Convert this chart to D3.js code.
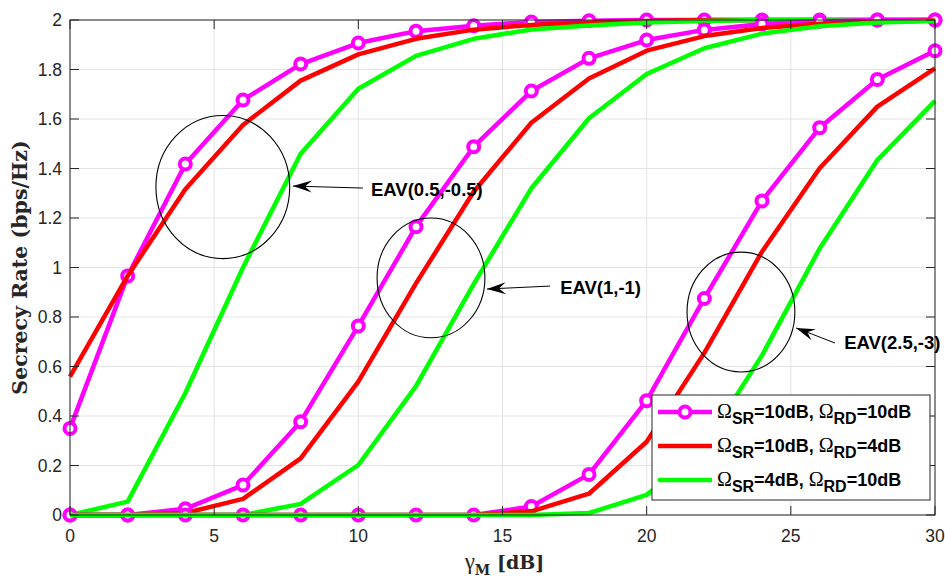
<!DOCTYPE html>
<html>
<head>
<meta charset="utf-8">
<script src="https://cdn.jsdelivr.net/npm/d3@7"></script>
<style>
  body { margin: 0; background: #fff; }
  svg { display: block; }
</style>
</head>
<body>
<svg id="chart" width="945" height="581"></svg>
<script>
// gamma_M in dB
const xVals = [0, 2, 4, 6, 8, 10, 12, 14, 16, 18, 20, 22, 24, 26, 28, 30];

// EAV(0.5,-0.5)
const eav1_m = [0.35, 0.966, 1.418, 1.677, 1.822, 1.907, 1.955, 1.977, 1.992, 1.997, 2.0, 2.0, 2.0, 2.0, 2.0, 2.0];
const eav1_r = [0.559, 0.966, 1.316, 1.576, 1.755, 1.861, 1.924, 1.961, 1.98, 1.99, 1.996, 2.0, 2.0, 2.0, 2.0, 2.0];
const eav1_g = [0.0, 0.054, 0.493, 1.0, 1.46, 1.722, 1.855, 1.924, 1.962, 1.978, 1.99, 1.996, 2.0, 2.0, 2.0, 2.0];

// EAV(1,-1)
const eav2_m = [0.0, 0.0, 0.025, 0.121, 0.377, 0.764, 1.165, 1.488, 1.713, 1.845, 1.919, 1.96, 1.984, 1.995, 2.0, 2.0];
const eav2_r = [0.0, 0.0, 0.008, 0.065, 0.229, 0.539, 0.936, 1.306, 1.585, 1.764, 1.876, 1.935, 1.968, 1.985, 1.993, 1.998];
const eav2_g = [0.0, 0.0, 0.0, 0.0, 0.045, 0.202, 0.521, 0.933, 1.32, 1.603, 1.782, 1.886, 1.945, 1.975, 1.99, 1.996];

// EAV(2.5,-3)
const eav3_m = [0, 0, 0, 0, 0, 0, 0, 0.0, 0.034, 0.164, 0.462, 0.875, 1.269, 1.565, 1.76, 1.876];
const eav3_r = [0, 0, 0, 0, 0, 0, 0, 0.0, 0.015, 0.086, 0.296, 0.655, 1.064, 1.401, 1.65, 1.805];
const eav3_g = [0, 0, 0, 0, 0, 0, 0, 0.0, 0.0, 0.008, 0.081, 0.28, 0.645, 1.077, 1.434, 1.673];

const xTicks = [0, 5, 10, 15, 20, 25, 30];
const yTicks = [0, 0.2, 0.4, 0.6, 0.8, 1, 1.2, 1.4, 1.6, 1.8, 2];

// annotation ellipses + arrows, in data units
const annotations = [
  { label: "EAV(0.5,-0.5)", cx: 5.3, cy: 1.325, rx: 2.32, ry: 0.289, tip: [7.73, 1.329], tail: [10.16, 1.321], tx: 10.44, ty: 1.317 },
  { label: "EAV(1,-1)", cx: 12.52, cy: 0.958, rx: 1.87, ry: 0.242, tip: [14.46, 0.913], tail: [16.65, 0.925], tx: 17.0, ty: 0.921 },
  { label: "EAV(2.5,-3)", cx: 23.27, cy: 0.82, rx: 1.87, ry: 0.242, tip: [25.18, 0.756], tail: [26.53, 0.695], tx: 26.85, ty: 0.695 }
];

const legendItems = [
  { sr: "10dB", rd: "10dB", color: "#ff00ff", marker: true },
  { sr: "10dB", rd: "4dB", color: "#ff0000", marker: false },
  { sr: "4dB", rd: "10dB", color: "#00ff00", marker: false }
];

const groups = [
  [{ y: eav1_m, c: "#ff00ff", m: true }, { y: eav1_r, c: "#ff0000" }, { y: eav1_g, c: "#00ff00" }],
  [{ y: eav2_m, c: "#ff00ff", m: true }, { y: eav2_r, c: "#ff0000" }, { y: eav2_g, c: "#00ff00" }],
  [{ y: eav3_m, c: "#ff00ff", m: true }, { y: eav3_r, c: "#ff0000" }, { y: eav3_g, c: "#00ff00" }]
];

const margin = { top: 20, right: 10, bottom: 66, left: 70 };
const width = 945 - margin.left - margin.right;
const height = 581 - margin.top - margin.bottom;
const axisColor = "#262626";

const svg = d3.select("#chart");
const g = svg.append("g").attr("transform", `translate(${margin.left},${margin.top})`);

const x = d3.scaleLinear().domain([0, 30]).range([0, width]);
const y = d3.scaleLinear().domain([0, 2]).range([height, 0]);

// grid
g.append("g").selectAll("line").data(xTicks).join("line")
  .attr("x1", d => x(d)).attr("x2", d => x(d))
  .attr("y1", 0).attr("y2", height)
  .attr("stroke", "#e3e3e3").attr("stroke-width", 1);
g.append("g").selectAll("line").data(yTicks).join("line")
  .attr("x1", 0).attr("x2", width)
  .attr("y1", d => y(d)).attr("y2", d => y(d))
  .attr("stroke", "#e3e3e3").attr("stroke-width", 1);

// series
const line = d3.line().x((d, i) => x(xVals[i])).y(d => y(d));
groups.forEach(grp => {
  grp.forEach(s => {
    g.append("path").datum(s.y)
      .attr("d", line)
      .attr("fill", "none")
      .attr("stroke", s.c)
      .attr("stroke-width", 4.5)
      .attr("stroke-linejoin", "round");
    if (s.m) {
      g.append("g").selectAll("circle").data(s.y).join("circle")
        .attr("cx", (d, i) => x(xVals[i]))
        .attr("cy", d => y(d))
        .attr("r", 5.5)
        .attr("fill", "#fff")
        .attr("stroke", s.c)
        .attr("stroke-width", 4);
    }
  });
});

// axes (MATLAB style box with inward ticks)
const tickLen = 9;
const axisG = g.append("g").attr("font-family", "Liberation Sans, Arial, sans-serif");

g.append("rect").attr("x", 0).attr("y", 0).attr("width", width).attr("height", height)
  .attr("fill", "none").attr("stroke", axisColor).attr("stroke-width", 1);

axisG.selectAll(".xtb").data(xTicks).join("line")
  .attr("x1", d => x(d)).attr("x2", d => x(d))
  .attr("y1", height).attr("y2", height - tickLen)
  .attr("stroke", axisColor);
axisG.selectAll(".xtt").data(xTicks).join("line")
  .attr("x1", d => x(d)).attr("x2", d => x(d))
  .attr("y1", 0).attr("y2", tickLen)
  .attr("stroke", axisColor);
axisG.selectAll(".ytl").data(yTicks).join("line")
  .attr("x1", 0).attr("x2", tickLen)
  .attr("y1", d => y(d)).attr("y2", d => y(d))
  .attr("stroke", axisColor);
axisG.selectAll(".ytr").data(yTicks).join("line")
  .attr("x1", width).attr("x2", width - tickLen)
  .attr("y1", d => y(d)).attr("y2", d => y(d))
  .attr("stroke", axisColor);

axisG.selectAll(".xlab").data(xTicks).join("text")
  .attr("x", d => x(d)).attr("y", height + 27)
  .attr("text-anchor", "middle")
  .attr("font-size", 17.5).attr("fill", axisColor)
  .text(d => d);
axisG.selectAll(".ylab").data(yTicks).join("text")
  .attr("x", -8).attr("y", d => y(d)).attr("dy", "0.35em")
  .attr("text-anchor", "end")
  .attr("font-size", 17.5).attr("fill", axisColor)
  .text(d => d);

// axis titles
const xt = svg.append("text")
  .attr("x", margin.left + width / 2 + 2).attr("y", 569)
  .attr("text-anchor", "middle")
  .attr("font-family", "DejaVu Serif, serif")
  .attr("font-size", 19).attr("fill", axisColor);
xt.append("tspan").attr("font-family", "Liberation Serif, serif").attr("font-size", 23).text("γ");
xt.append("tspan").attr("font-weight", "bold").attr("font-size", 14).attr("dy", 6).text("M");
xt.append("tspan").attr("font-weight", "bold").attr("dy", -6).text(" [dB]");

svg.append("text")
  .attr("transform", `translate(27,${margin.top + height / 2}) rotate(-90)`)
  .attr("text-anchor", "middle")
  .attr("font-family", "DejaVu Serif, serif")
  .attr("font-weight", "bold")
  .attr("font-size", 20.5).attr("fill", axisColor)
  .text("Secrecy Rate (bps/Hz)");

// annotations
const ann = g.append("g");
annotations.forEach(a => {
  ann.append("ellipse")
    .attr("cx", x(a.cx)).attr("cy", y(a.cy))
    .attr("rx", x(a.rx) - x(0)).attr("ry", y(0) - y(a.ry))
    .attr("fill", "none").attr("stroke", "#000").attr("stroke-width", 1.1);
  const x1 = x(a.tail[0]), y1 = y(a.tail[1]), x2 = x(a.tip[0]), y2 = y(a.tip[1]);
  ann.append("line").attr("x1", x1).attr("y1", y1).attr("x2", x2).attr("y2", y2)
    .attr("stroke", "#000").attr("stroke-width", 1);
  const ang = Math.atan2(y2 - y1, x2 - x1) * 180 / Math.PI;
  ann.append("path")
    .attr("d", "M0,0 L-19,-6 L-12,0 L-19,6 Z")
    .attr("transform", `translate(${x2},${y2}) rotate(${ang})`)
    .attr("fill", "#000");
  ann.append("text")
    .attr("x", x(a.tx)).attr("y", y(a.ty)).attr("dy", "0.35em")
    .attr("font-family", "Liberation Sans, Arial, sans-serif")
    .attr("font-weight", "bold").attr("font-size", 18.5)
    .attr("fill", "#000")
    .text(a.label);
});

// legend
const lg = svg.append("g").attr("transform", "translate(652,395)");
lg.append("rect").attr("width", 278).attr("height", 105)
  .attr("fill", "#fff").attr("stroke", "#262626").attr("stroke-width", 1);
legendItems.forEach((d, i) => {
  const row = lg.append("g").attr("transform", `translate(0,${17 + i * 34})`);
  row.append("line").attr("x1", 6).attr("x2", 60).attr("y1", 0).attr("y2", 0)
    .attr("stroke", d.color).attr("stroke-width", 4.5);
  if (d.marker) {
    row.append("circle").attr("cx", 33).attr("cy", 0).attr("r", 5.5)
      .attr("fill", "#fff").attr("stroke", d.color).attr("stroke-width", 4);
  }
  const t = row.append("text").attr("x", 65).attr("y", 6)
    .attr("font-family", "Liberation Sans, Arial, sans-serif")
    .attr("font-weight", "bold").attr("font-size", 18).attr("fill", "#000");
  t.append("tspan").attr("font-weight", "normal").attr("font-family", "Liberation Serif, serif").attr("font-size", 20).text("Ω");
  t.append("tspan").attr("font-size", 16).attr("dy", 6).text("SR");
  t.append("tspan").attr("dy", -6).text("=" + d.sr + ", ");
  t.append("tspan").attr("font-weight", "normal").attr("font-family", "Liberation Serif, serif").attr("font-size", 20).text("Ω");
  t.append("tspan").attr("font-size", 16).attr("dy", 6).text("RD");
  t.append("tspan").attr("dy", -6).text("=" + d.rd);
});
</script>
</body>
</html>
